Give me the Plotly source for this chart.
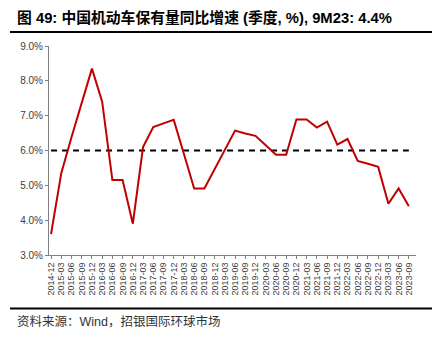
import plotly.graph_objects as go

# Quarter-end labels, 2014-12 through 2023-09
quarters = [
    "2014-12", "2015-03", "2015-06", "2015-09", "2015-12", "2016-03", "2016-06",
    "2016-09", "2016-12", "2017-03", "2017-06", "2017-09", "2017-12", "2018-03",
    "2018-06", "2018-09", "2018-12", "2019-03", "2019-06", "2019-09", "2019-12",
    "2020-03", "2020-06", "2020-09", "2020-12", "2021-03", "2021-06", "2021-09",
    "2021-12", "2022-03", "2022-06", "2022-09", "2022-12", "2023-03", "2023-06",
    "2023-09",
]

# Vehicle stock YoY growth (%)
growth = [
    3.60, 5.35, 6.38, 7.37, 8.35, 7.40, 5.15, 5.15, 3.90, 6.10, 6.67, 6.78,
    6.88, 5.90, 4.91, 4.91, 5.46, 6.01, 6.57, 6.49, 6.42, 6.15, 5.88, 5.88,
    6.89, 6.89, 6.66, 6.83, 6.17, 6.33, 5.70, 5.62, 5.53, 4.47, 4.91, 4.40,
]

# Reference level (%)
ref_level = [6.0] * len(quarters)

y_ticks = [3, 4, 5, 6, 7, 8, 9]
y_tick_text = ["3.0%", "4.0%", "5.0%", "6.0%", "7.0%", "8.0%", "9.0%"]

title_text = "图 49: 中国机动车保有量同比增速 (季度, %), 9M23: 4.4%"
source_text = "资料来源：Wind，招银国际环球市场"

x_idx = list(range(len(quarters)))

fig = go.Figure()
fig.add_trace(go.Scatter(
    x=x_idx, y=ref_level, mode="lines",
    line=dict(color="#000000", width=2, dash="6px,5px"),
    hoverinfo="skip",
))
fig.add_trace(go.Scatter(
    x=x_idx, y=growth, mode="lines",
    line=dict(color="#C00000", width=2),
))

L, R, T, B = 49, 29, 46, 82
W, H = 445, 337
pw, ph = W - L - R, H - T - B


def px_x(px):
    return (px - L) / pw


def px_y(py):
    return (H - B - py) / ph


fig.update_layout(
    width=W, height=H,
    margin=dict(l=L, r=R, t=T, b=B),
    paper_bgcolor="white", plot_bgcolor="white",
    showlegend=False,
    font=dict(family="Liberation Sans, Arial, Noto Sans CJK SC", color="#404040"),
    xaxis=dict(
        range=[-0.2, 35.7],
        tickmode="array", tickvals=x_idx, ticktext=quarters,
        tickangle=-90, tickfont=dict(size=9, color="#404040"),
        showgrid=False, zeroline=False,
        showline=True, linecolor="#808080", linewidth=1,
        ticks="outside", ticklen=3, tickcolor="#808080",
    ),
    yaxis=dict(
        range=[3, 9],
        tickmode="array", tickvals=y_ticks, ticktext=y_tick_text,
        tickfont=dict(size=10, color="#404040"),
        showgrid=False, zeroline=False,
        showline=True, linecolor="#808080", linewidth=1,
        ticks="outside", ticklen=3, tickcolor="#808080",
    ),
    shapes=[
        dict(type="line", xref="paper", yref="paper",
             x0=px_x(10), x1=px_x(432), y0=px_y(32), y1=px_y(32),
             line=dict(color="#000000", width=2)),
        dict(type="line", xref="paper", yref="paper",
             x0=px_x(10), x1=px_x(432), y0=px_y(308.5), y1=px_y(308.5),
             line=dict(color="#000000", width=2)),
    ],
    annotations=[
        dict(text="<b>" + title_text + "</b>", xref="paper", yref="paper",
             x=px_x(15), y=px_y(17), xanchor="left", yanchor="middle",
             showarrow=False,
             font=dict(size=14.8, color="#000000",
                       family="Liberation Sans, Arial, Noto Sans CJK SC")),
        dict(text=source_text, xref="paper", yref="paper",
             x=px_x(15), y=px_y(321), xanchor="left", yanchor="middle",
             showarrow=False,
             font=dict(size=12.5, color="#333333",
                       family="Liberation Sans, Noto Sans CJK SC")),
    ],
)

fig.write_html("out.html")
